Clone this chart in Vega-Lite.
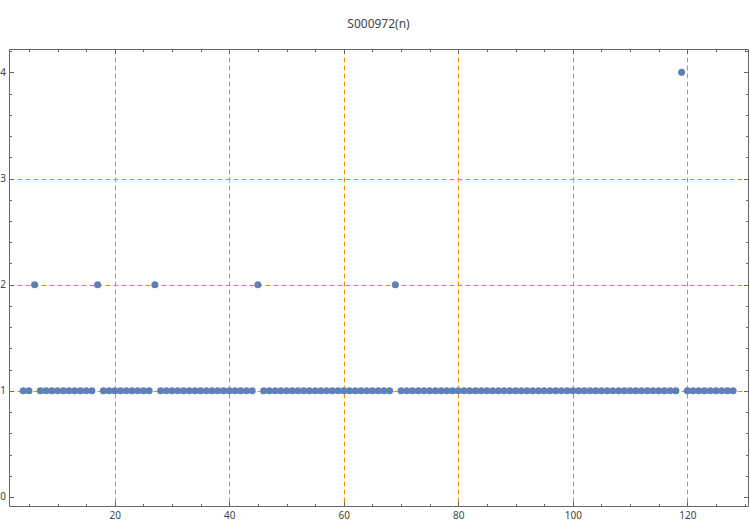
{
  "$schema": "https://vega.github.io/schema/vega-lite/v6.json",
  "autosize": "none",
  "width": 739,
  "height": 457,
  "padding": {"left": 9, "top": 49, "right": 2, "bottom": 18},
  "title": {"text": "S000972(n)", "anchor": "middle", "frame": "group", "fontSize": 12, "fontWeight": "normal", "color": "#444", "font": "Noto Sans", "offset": 18},
  "config": {
    "view": {"stroke": "#666", "strokeWidth": 1},
    "axis": {"domain": false, "tickColor": "#666", "labelColor": "#444", "labelFont": "Noto Sans", "labelFontSize": 10, "grid": false, "ticks": true, "tickWidth": 1,
             "gridColor": "#F28C00", "gridDash": [5,3], "gridWidth": 1, "gridOpacity": 1}
  },
  "data": {"values": [
    {"n":4,"v":1},{"n":5,"v":1},{"n":6,"v":2},{"n":7,"v":1},{"n":8,"v":1},{"n":9,"v":1},{"n":10,"v":1},{"n":11,"v":1},{"n":12,"v":1},{"n":13,"v":1},{"n":14,"v":1},{"n":15,"v":1},{"n":16,"v":1},{"n":17,"v":2},{"n":18,"v":1},{"n":19,"v":1},{"n":20,"v":1},{"n":21,"v":1},{"n":22,"v":1},{"n":23,"v":1},{"n":24,"v":1},{"n":25,"v":1},{"n":26,"v":1},{"n":27,"v":2},{"n":28,"v":1},{"n":29,"v":1},{"n":30,"v":1},{"n":31,"v":1},{"n":32,"v":1},{"n":33,"v":1},{"n":34,"v":1},{"n":35,"v":1},{"n":36,"v":1},{"n":37,"v":1},{"n":38,"v":1},{"n":39,"v":1},{"n":40,"v":1},{"n":41,"v":1},{"n":42,"v":1},{"n":43,"v":1},{"n":44,"v":1},{"n":45,"v":2},{"n":46,"v":1},{"n":47,"v":1},{"n":48,"v":1},{"n":49,"v":1},{"n":50,"v":1},{"n":51,"v":1},{"n":52,"v":1},{"n":53,"v":1},{"n":54,"v":1},{"n":55,"v":1},{"n":56,"v":1},{"n":57,"v":1},{"n":58,"v":1},{"n":59,"v":1},{"n":60,"v":1},{"n":61,"v":1},{"n":62,"v":1},{"n":63,"v":1},{"n":64,"v":1},{"n":65,"v":1},{"n":66,"v":1},{"n":67,"v":1},{"n":68,"v":1},{"n":69,"v":2},{"n":70,"v":1},{"n":71,"v":1},{"n":72,"v":1},{"n":73,"v":1},{"n":74,"v":1},{"n":75,"v":1},{"n":76,"v":1},{"n":77,"v":1},{"n":78,"v":1},{"n":79,"v":1},{"n":80,"v":1},{"n":81,"v":1},{"n":82,"v":1},{"n":83,"v":1},{"n":84,"v":1},{"n":85,"v":1},{"n":86,"v":1},{"n":87,"v":1},{"n":88,"v":1},{"n":89,"v":1},{"n":90,"v":1},{"n":91,"v":1},{"n":92,"v":1},{"n":93,"v":1},{"n":94,"v":1},{"n":95,"v":1},{"n":96,"v":1},{"n":97,"v":1},{"n":98,"v":1},{"n":99,"v":1},{"n":100,"v":1},{"n":101,"v":1},{"n":102,"v":1},{"n":103,"v":1},{"n":104,"v":1},{"n":105,"v":1},{"n":106,"v":1},{"n":107,"v":1},{"n":108,"v":1},{"n":109,"v":1},{"n":110,"v":1},{"n":111,"v":1},{"n":112,"v":1},{"n":113,"v":1},{"n":114,"v":1},{"n":115,"v":1},{"n":116,"v":1},{"n":117,"v":1},{"n":118,"v":1},{"n":119,"v":4},{"n":120,"v":1},{"n":121,"v":1},{"n":122,"v":1},{"n":123,"v":1},{"n":124,"v":1},{"n":125,"v":1},{"n":126,"v":1},{"n":127,"v":1},{"n":128,"v":1}
  ]},
  "layer": [
    {
      "mark": {"type": "point", "opacity": 0},
      "encoding": {
        "x": {"field": "n", "type": "quantitative", "scale": {"domain": [1.52, 130.6], "nice": false, "zero": false},
              "axis": {"orient": "bottom", "title": null, "labels": false, "ticks": false, "grid": true, "values": [20,40,60,80,100,120]}},
        "y": {"field": "v", "type": "quantitative", "scale": {"domain": [-0.085, 4.22], "nice": false, "zero": false},
              "axis": {"orient": "left", "title": null, "labels": false, "ticks": false, "grid": true, "values": [1,2,3]}}
      }
    },
    {
      "mark": {"type": "point", "opacity": 0},
      "encoding": {
        "x": {"field": "n", "type": "quantitative", "scale": {"domain": [1.52, 130.6], "nice": false, "zero": false},
              "axis": {"orient": "bottom", "title": null, "labels": false, "values": [5,10,15,25,30,35,45,50,55,65,70,75,85,90,95,105,110,115,125,130], "tickSize": -2.5}},
        "y": {"field": "v", "type": "quantitative", "scale": {"domain": [-0.085, 4.22], "nice": false, "zero": false},
              "axis": {"orient": "left", "title": null, "labels": false, "values": [0.2,0.4,0.6,0.8,1.2,1.4,1.6,1.8,2.2,2.4,2.6,2.8,3.2,3.4,3.6,3.8,4.2], "tickSize": -2.5}}
      }
    },
    {
      "mark": {"type": "point", "opacity": 0},
      "encoding": {
        "x": {"field": "n", "type": "quantitative", "scale": {"domain": [1.52, 130.6], "nice": false, "zero": false},
              "axis": {"orient": "top", "title": null, "labels": false, "values": [5,10,15,20,25,30,35,40,45,50,55,60,65,70,75,80,85,90,95,100,105,110,115,120,125,130], "tickSize": -2.5}},
        "y": {"field": "v", "type": "quantitative", "scale": {"domain": [-0.085, 4.22], "nice": false, "zero": false},
              "axis": {"orient": "right", "title": null, "labels": false, "values": [0,0.2,0.4,0.6,0.8,1,1.2,1.4,1.6,1.8,2,2.2,2.4,2.6,2.8,3,3.2,3.4,3.6,3.8,4,4.2], "tickSize": -2.5}}
      }
    },
    {
      "mark": {"type": "point", "opacity": 0},
      "encoding": {
        "x": {"field": "n", "type": "quantitative", "scale": {"domain": [1.52, 130.6], "nice": false, "zero": false},
              "axis": {"orient": "top", "title": null, "labels": false, "values": [20,40,60,80,100,120], "tickSize": -4.5}},
        "y": {"field": "v", "type": "quantitative", "scale": {"domain": [-0.085, 4.22], "nice": false, "zero": false},
              "axis": {"orient": "right", "title": null, "labels": false, "values": [0,1,2,3,4], "tickSize": -4.5}}
      }
    },
    {
      "mark": {"type": "circle", "size": 50, "color": "#5E81B5", "opacity": 1},
      "encoding": {
        "x": {"field": "n", "type": "quantitative", "scale": {"domain": [1.52, 130.6], "nice": false, "zero": false},
              "axis": {"orient": "bottom", "title": null, "values": [20,40,60,80,100,120], "format": "d", "tickSize": -4.5, "labelPadding": 9}},
        "y": {"field": "v", "type": "quantitative", "scale": {"domain": [-0.085, 4.22], "nice": false, "zero": false},
              "axis": {"orient": "left", "title": null, "values": [0,1,2,3,4], "format": "d", "tickSize": -4.5, "labelPadding": 8}}
      }
    }
  ],
  "resolve": {"axis": {"x": "independent", "y": "independent"}}
}
